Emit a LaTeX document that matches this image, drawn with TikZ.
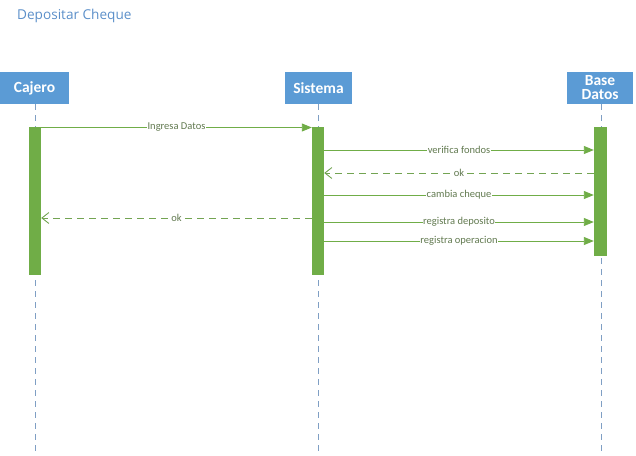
\documentclass[tikz,border=0pt]{standalone}
\usepackage{fontspec}
\setmainfont{Carlito}
\newfontfamily\titlefont{Open Sans}
\usetikzlibrary{arrows.meta}
\definecolor{hdrblue}{HTML}{5B9BD5}
\definecolor{titleblue}{HTML}{5B8FC9}
\definecolor{actgreen}{HTML}{70AD47}
\definecolor{lblgreen}{HTML}{627A50}
\definecolor{lifeblue}{HTML}{7F9FC4}
\tikzset{
  hdr/.style={fill=hdrblue, draw=none, text=white, font=\fontsize{15.5}{16}\selectfont\bfseries, align=center, inner sep=0pt},
  actbar/.style={fill=actgreen, draw=none},
  lifeline/.style={draw=lifeblue, line width=0.8pt, dash pattern=on 6pt off 5pt},
  msg/.style={draw=actgreen, line width=0.9pt, -{Triangle[length=10pt,width=8pt]}},
  ret/.style={draw=actgreen!80!gray, line width=0.9pt, dash pattern=on 7pt off 5pt, -{Straight Barb[length=7pt,width=11pt]}},
  lbl/.style={fill=white, text=lblgreen, font=\fontsize{10.5}{11}\selectfont, inner sep=0.5pt}
}
\begin{document}
\begin{tikzpicture}[x=1pt,y=-1pt]
\useasboundingbox (0,0) rectangle (636,455);
\node[anchor=west, text=titleblue, font=\titlefont\fontsize{13.6}{14}\selectfont, inner sep=0pt] (title) at (17,15.5) {Depositar Cheque};
% header boxes
\node[hdr, minimum width=69pt, minimum height=32pt] (cajero) at (34.5,88) {Cajero};
\node[hdr, minimum width=67pt, minimum height=32pt] (sistema) at (318.5,88) {Sistema};
\node[hdr, minimum width=66pt, minimum height=32pt] (bd) at (600,88) {Base\\[-2pt]Datos};
% lifeline ends
\coordinate (cE) at (35,455);
\coordinate (sE) at (318,455);
\coordinate (bE) at (601,455);
\draw[lifeline] (cajero.south -| cE) -- (cE);
\draw[lifeline] (sistema.south -| sE) -- (sE);
\draw[lifeline] (bd.south -| bE) -- (bE);
% activation bars
\node[actbar, minimum width=12pt, minimum height=148pt, inner sep=0pt] (ac) at (35,201) {};
\node[actbar, minimum width=12pt, minimum height=148pt, inner sep=0pt] (as) at (318,201) {};
\node[actbar, minimum width=13pt, minimum height=129pt, inner sep=0pt] (ab) at (600.5,191.5) {};
% messages
\draw[msg] (ac.east |- 0,127.5) -- node[lbl]{Ingresa Datos} (as.west |- 0,127.5);
\draw[msg] (as.east |- 0,150) -- node[lbl]{verifica fondos} (ab.west |- 0,150);
\draw[ret] (ab.west |- 0,173) -- node[lbl]{ok} (as.east |- 0,173);
\draw[msg] (as.east |- 0,195) -- node[lbl]{cambia cheque} (ab.west |- 0,195);
\draw[ret] (as.west |- 0,218) -- node[lbl]{ok} (ac.east |- 0,218);
\draw[msg] (as.east |- 0,222) -- node[lbl]{registra deposito} (ab.west |- 0,222);
\draw[msg] (as.east |- 0,241) -- node[lbl]{registra operacion} (ab.west |- 0,241);
\end{tikzpicture}
\end{document}
